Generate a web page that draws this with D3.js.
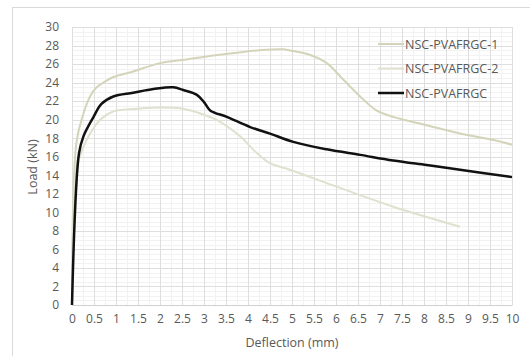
<!DOCTYPE html>
<html>
<head>
<meta charset="utf-8">
<script src="https://cdnjs.cloudflare.com/ajax/libs/d3/7.8.5/d3.min.js"></script>
<style>
  body { margin: 0; background: #fff; }
  text { font-family: "Open Sans", "Noto Sans", sans-serif; fill: #595959; }
</style>
</head>
<body>
<div id="chart"></div>
<script>
// series names
var seriesNames = ["NSC-PVAFRGC-1", "NSC-PVAFRGC-2", "NSC-PVAFRGC"];

// deflection (mm) / load (kN)
var defl1 = [0, 0.1, 0.25, 0.41, 0.56, 0.75, 0.94, 1.39, 2.0, 2.6, 3.36, 4.27, 4.8, 5.03, 5.4, 5.79, 6.17, 6.55, 6.92, 7.3, 8.06, 8.82, 9.58, 10];
var load1 = [0, 17.5, 20.5, 22.5, 23.5, 24.1, 24.6, 25.2, 26.1, 26.5, 27.0, 27.5, 27.6, 27.4, 27.0, 26.1, 24.3, 22.5, 21.0, 20.3, 19.4, 18.5, 17.8, 17.3];

var defl2 = [0, 0.12, 0.18, 0.26, 0.45, 0.64, 0.94, 1.55, 2.0, 2.49, 2.9, 3.36, 3.82, 4.2, 4.5, 4.95, 6.0, 7.3, 8.06, 8.82];
var load2 = [0, 15.5, 16.0, 17.1, 18.8, 20.0, 20.9, 21.2, 21.3, 21.2, 20.7, 19.8, 18.2, 16.4, 15.3, 14.6, 12.8, 10.6, 9.5, 8.45];

var defl3 = [0, 0.16, 0.26, 0.49, 0.67, 0.94, 1.39, 1.85, 2.3, 2.53, 2.83, 3.0, 3.14, 3.52, 4.05, 4.5, 5.03, 5.79, 6.55, 7.3, 8.06, 8.82, 10];
var load3 = [0, 16.4, 18.2, 20.3, 21.7, 22.5, 22.9, 23.3, 23.5, 23.2, 22.7, 21.9, 21.0, 20.3, 19.2, 18.5, 17.6, 16.8, 16.2, 15.6, 15.1, 14.6, 13.8];

var xTicks = [0, 0.5, 1, 1.5, 2, 2.5, 3, 3.5, 4, 4.5, 5, 5.5, 6, 6.5, 7, 7.5, 8, 8.5, 9, 9.5, 10];
var yTicks = [0, 2, 4, 6, 8, 10, 12, 14, 16, 18, 20, 22, 24, 26, 28, 30];

var width = 530, height = 356;
var plotLeft = 72, plotRight = 512, plotTop = 27, plotBottom = 305;

var svg = d3.select("#chart").append("svg")
  .attr("width", width)
  .attr("height", height);

// outer chart border (cut off at the right and bottom)
svg.append("rect")
  .attr("x", 12.5).attr("y", 7.5)
  .attr("width", 600).attr("height", 400)
  .attr("fill", "none")
  .attr("stroke", "#d9d9d9");

var xScale = d3.scaleLinear().domain([0, 10]).range([plotLeft, plotRight]);
var yScale = d3.scaleLinear().domain([0, 30]).range([plotBottom, plotTop]);

// minor gridlines
var grid = svg.append("g");
grid.selectAll("line.minorY")
  .data(d3.range(0, 30.01, 0.5))
  .enter().append("line")
  .attr("x1", plotLeft).attr("x2", plotRight)
  .attr("y1", function(d) { return Math.round(yScale(d)) + 0.5; })
  .attr("y2", function(d) { return Math.round(yScale(d)) + 0.5; })
  .attr("stroke", "#f2f2f2");
grid.selectAll("line.minorX")
  .data(d3.range(0, 10.01, 0.25))
  .enter().append("line")
  .attr("y1", plotTop).attr("y2", plotBottom)
  .attr("x1", function(d) { return Math.round(xScale(d)) + 0.5; })
  .attr("x2", function(d) { return Math.round(xScale(d)) + 0.5; })
  .attr("stroke", "#f2f2f2");

// major gridlines
grid.selectAll("line.majY")
  .data(yTicks)
  .enter().append("line")
  .attr("x1", plotLeft).attr("x2", plotRight)
  .attr("y1", function(d) { return Math.round(yScale(d)) + 0.5; })
  .attr("y2", function(d) { return Math.round(yScale(d)) + 0.5; })
  .attr("stroke", "#dedede");
grid.selectAll("line.majX")
  .data(xTicks)
  .enter().append("line")
  .attr("y1", plotTop).attr("y2", plotBottom)
  .attr("x1", function(d) { return Math.round(xScale(d)) + 0.5; })
  .attr("x2", function(d) { return Math.round(xScale(d)) + 0.5; })
  .attr("stroke", "#dedede");

// axes
var xAxis = d3.axisBottom(xScale).tickValues(xTicks).tickSize(0).tickPadding(9)
  .tickFormat(function(d) { return d; });
var yAxis = d3.axisLeft(yScale).tickValues(yTicks).tickSize(0).tickPadding(13);

var gx = svg.append("g")
  .attr("transform", "translate(0," + plotBottom + ")")
  .call(xAxis);
gx.select(".domain").attr("stroke", "#d0d0d0");
gx.selectAll("text").style("font-size", "12px").attr("fill", "#3a3a3a");

var gy = svg.append("g")
  .attr("transform", "translate(" + plotLeft + ",0)")
  .call(yAxis);
gy.select(".domain").remove();
gy.selectAll("text").style("font-size", "12px").attr("fill", "#3a3a3a");

// axis titles
svg.append("text")
  .attr("x", 292)
  .attr("y", 347)
  .attr("text-anchor", "middle")
  .style("font-size", "12.5px")
  .attr("fill", "#404040")
  .text("Deflection (mm)");

svg.append("text")
  .attr("transform", "translate(37,167) rotate(-90)")
  .attr("text-anchor", "middle")
  .style("font-size", "12.5px")
  .attr("fill", "#404040")
  .text("Load (kN)");

// lines
var colors = ["#d4d4ba", "#e0e0ce", "#111111"];
var widths = [2, 2, 2.5];
var series = [
  d3.zip(defl1, load1),
  d3.zip(defl2, load2),
  d3.zip(defl3, load3)
];

var line = d3.line()
  .x(function(d) { return xScale(d[0]); })
  .y(function(d) { return yScale(d[1]); })
  .curve(d3.curveCatmullRom.alpha(0.5));

series.forEach(function(s, i) {
  svg.append("path")
    .datum(s)
    .attr("d", line)
    .attr("fill", "none")
    .attr("stroke", colors[i])
    .attr("stroke-width", widths[i])
    .attr("stroke-linejoin", "round");
});

// legend
var legend = svg.append("g");
seriesNames.forEach(function(name, i) {
  var ly = 44 + i * 24.5;
  legend.append("line")
    .attr("x1", 378).attr("x2", 404)
    .attr("y1", ly).attr("y2", ly)
    .attr("stroke", colors[i])
    .attr("stroke-width", widths[i]);
  legend.append("text")
    .attr("x", 405)
    .attr("y", ly + 4.5)
    .style("font-size", "12.5px")
    .text(name);
});
</script>
</body>
</html>
